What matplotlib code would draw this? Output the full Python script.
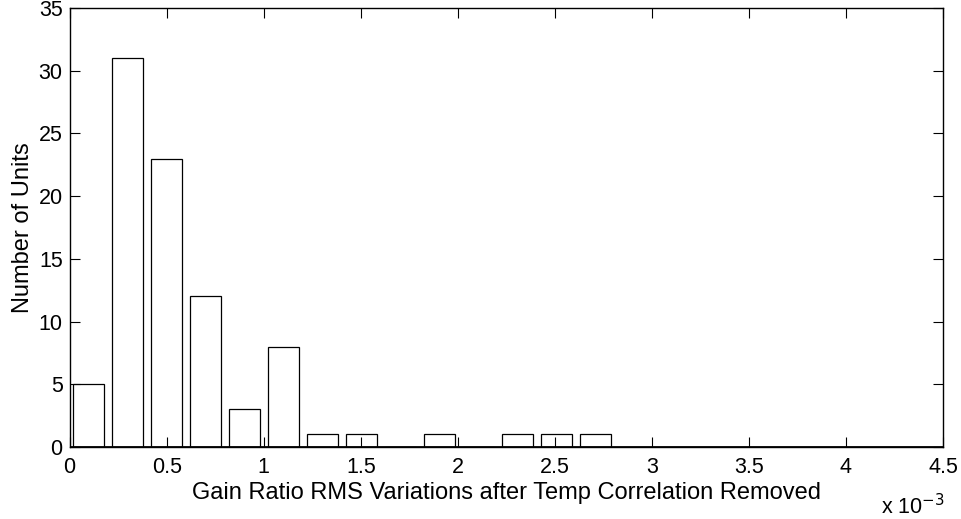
import matplotlib
matplotlib.use('Agg')
import matplotlib.pyplot as plt
import numpy as np

plt.rcParams['font.family'] = ['Liberation Sans', 'DejaVu Sans']

# histogram bin centres (units of 1e-3) and counts
bin_width = 0.2009
bin_centers = 0.097 + bin_width * np.arange(14)
counts = [5, 31, 23, 12, 3, 8, 1, 1, 0, 1, 0, 1, 1, 1]

fs = 15.5
fig = plt.figure(figsize=(9.61, 5.19), dpi=100)
ax = fig.add_axes([0.0725, 0.1387, 0.9088, 0.8459])

ax.bar(bin_centers, counts, width=0.8 * bin_width, color='white',
       edgecolor='black', linewidth=0.9)
ax.axhline(0, color='black', linewidth=2)

ax.set_xlim(0, 4.5)
ax.set_ylim(0, 35)
ax.set_xticks(np.arange(0, 4.51, 0.5))
ax.set_xticklabels(['0', '0.5', '1', '1.5', '2', '2.5', '3', '3.5', '4', '4.5'])
ax.set_yticks(np.arange(0, 36, 5))
ax.tick_params(direction='in', top=True, right=True, labelsize=fs,
               length=7, width=0.8)
ax.tick_params(axis='x', pad=7)
ax.tick_params(axis='y', pad=5)
for s in ax.spines.values():
    s.set_linewidth(1)

ax.set_xlabel('Gain Ratio RMS Variations after Temp Correlation Removed',
              fontsize=17, labelpad=3)
ax.set_ylabel('Number of Units', fontsize=17, labelpad=3)
fig.text(0.917, 0.010, r'x 10$^{-3}$', fontsize=fs, ha='left')

fig.savefig('out.png', dpi=100)
